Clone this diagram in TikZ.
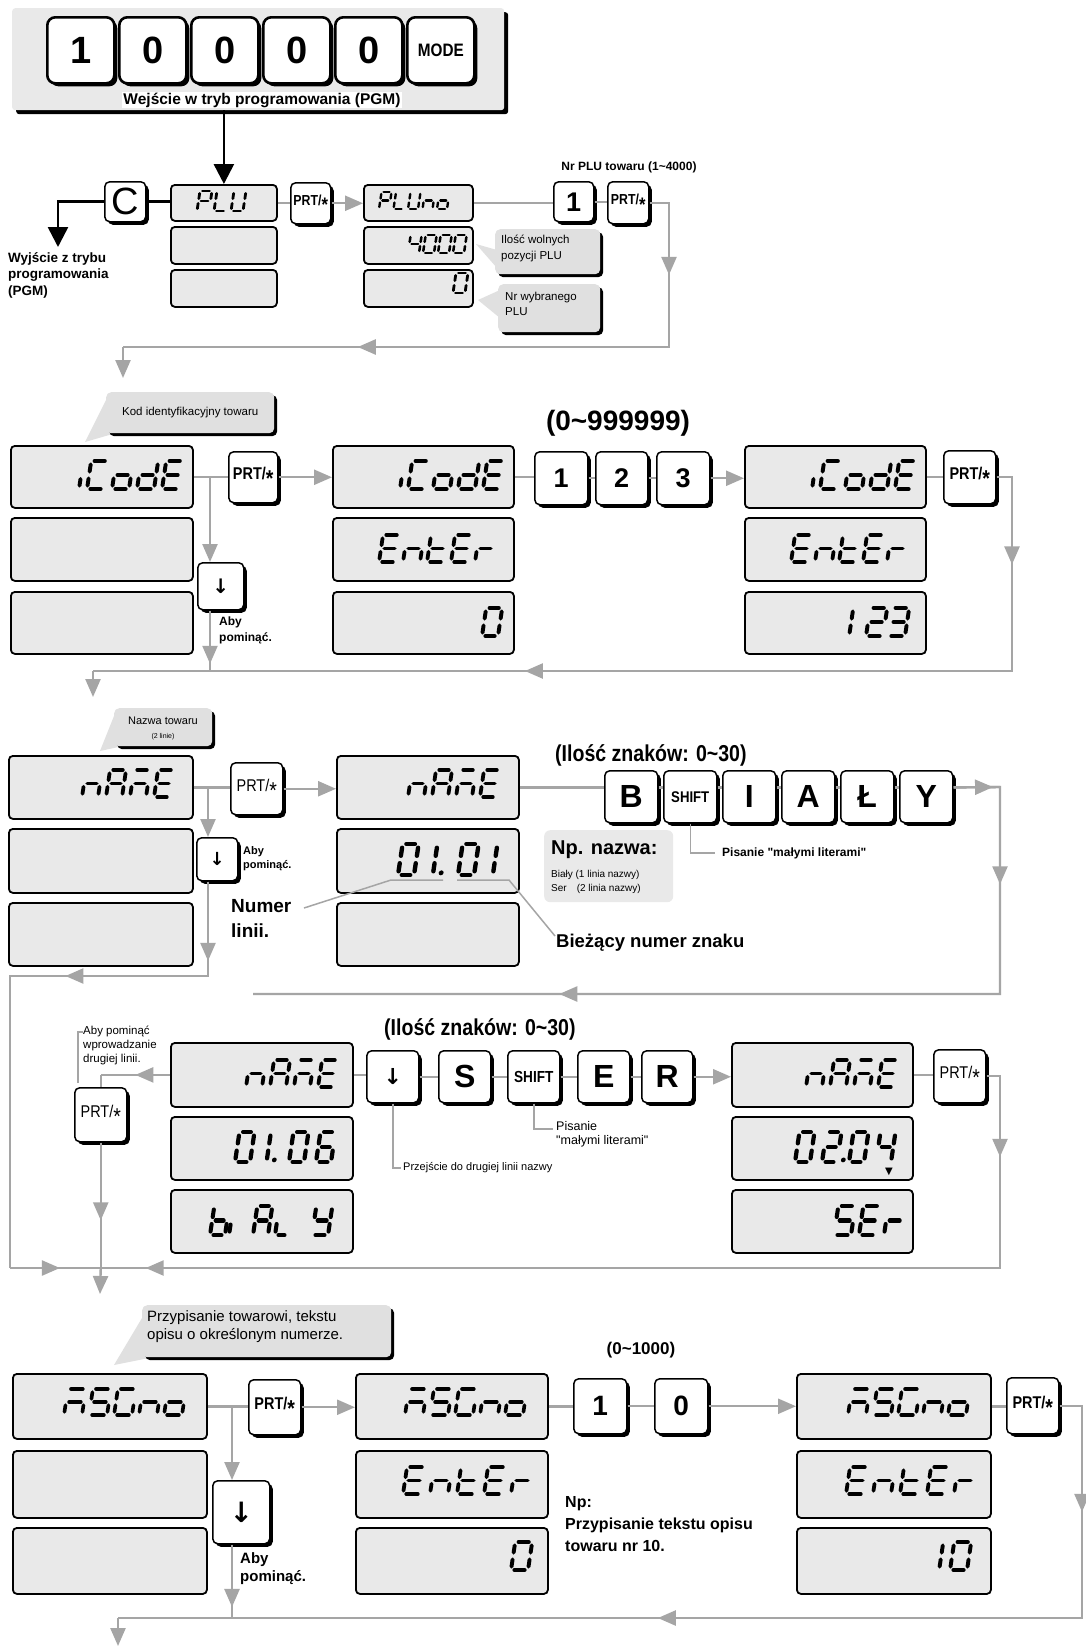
\documentclass[tikz,border=0pt]{standalone}
\usepackage{fontspec}
\setmainfont{Liberation Sans}
\newfontfamily\nar{Liberation Sans}[FakeStretch=0.85]
\newfontfamily\djv{DejaVu Sans}
\usetikzlibrary{arrows.meta,shadows,decorations.markings}
\definecolor{lg}{RGB}{165,165,165}
\definecolor{dg}{RGB}{233,233,233}
\definecolor{bg}{RGB}{224,224,224}
\newcommand\fK[1]{\fontsize{#1}{#1}\selectfont}
\newcommand\fL[2]{\fontsize{#1}{#2}\selectfont}
\newcommand\prt{PRT/\raisebox{-0.42em}{\scalebox{1.35}{*}}}
\newcommand\dnar{{\djv\bfseries ↓}}
\newcommand\qq{\textquotedbl}
\makeatletter
\newcommand\segglyph[1]{%
 \in@{a}{#1}\ifin@\draw ({\segG},{\sH}) -- ({\sW-\segG},{\sH});\fi
 \in@{g}{#1}\ifin@\draw ({\segG},{\sH/2}) -- ({\sW-\segG},{\sH/2});\fi
 \in@{d}{#1}\ifin@\draw ({\segG},0) -- ({\sW-\segG},0);\fi
 \in@{b}{#1}\ifin@\draw ({\sW},{\sH/2+\segG}) -- ({\sW},{\sH-\segG});\fi
 \in@{c}{#1}\ifin@\draw ({\sW},{\segG}) -- ({\sW},{\sH/2-\segG});\fi
 \in@{e}{#1}\ifin@\draw (0,{\segG}) -- (0,{\sH/2-\segG});\fi
 \in@{f}{#1}\ifin@\draw (0,{\sH/2+\segG}) -- (0,{\sH-\segG});\fi
 \in@{k}{#1}\ifin@\draw ({0.3*\sW},{\segG}) -- ({0.3*\sW},{\sH/2-\segG});\draw ({0.3*\sW},{\sH/2+\segG}) -- ({0.3*\sW},{\sH-\segG});\fi
 \in@{i}{#1}\ifin@\draw ({\sW},{\segG}) -- ({\sW},{0.36*\sH});\fi
 \in@{j}{#1}\ifin@\draw (0,{\segG}) -- (0,{0.36*\sH});\fi
 \in@{p}{#1}\ifin@\fill ({\sW+(\sP-\sW)/2},{0.07*\sH}) circle[radius={0.08*\sH}];\fi
 \in@{q}{#1}\ifin@\fill ({0.8*\sW},{0.07*\sH}) circle[radius={0.08*\sH}];\fi
}
\makeatother
\newcommand\segs[6]{%
 \begingroup
 \pgfmathsetmacro\sH{#3}\pgfmathsetmacro\sW{#4}\pgfmathsetmacro\sP{#5}%
 \pgfmathsetmacro\segLW{0.14*#3}\pgfmathsetmacro\segG{0.12*#3}%
 \gdef\nglyph{0}%
 \foreach \q in {#6}{\xdef\nglyph{\the\numexpr\nglyph+1\relax}}%
 \pgfmathsetmacro\sX{#1-(\nglyph-1)*#5-#4}%
 \begin{scope}[shift={(\sX,#2)},yscale=-1,xslant=-0.15]
  \tikzset{every path/.append style={line width=\segLW pt,line cap=round}}
  \foreach \q [count=\k from 0] in {#6}{%
   \begin{scope}[xshift=\k*\sP]\expandafter\segglyph\expandafter{\q}\end{scope}}
 \end{scope}
 \endgroup}
\newcommand\kb[7][]{\node[key,minimum width={#4-#2},minimum height={#5-#3},#1] (#6) at (#2,#3) {#7};}
\newcommand\db[5]{\node[disp,minimum width={#3-#1},minimum height={#4-#2}] (#5) at (#1,#2) {};}
\tikzset{
 shd/.style={drop shadow={shadow xshift=#1,shadow yshift=-#1,opacity=1,fill=black}},
 shd/.default=3pt,
 disp/.style={draw=black,line width=1.8pt,fill=dg,rounded corners=4pt,anchor=north west,inner sep=0pt},
 key/.style={draw=black,line width=1.5pt,fill=white,rounded corners=5pt,anchor=north west,inner sep=0pt,shd},
 topkey/.style={line width=2.6pt,rounded corners=8pt},
 hdrbox/.style={fill=dg,rounded corners=3pt,anchor=north west,inner sep=0pt,minimum width=492,minimum height=102,shd=4pt},
 bub/.style={fill=bg,rounded corners=5pt,anchor=north west,inner sep=0pt,shd},
 gl/.style={draw=lg,line width=2.4pt},
 ptr/.style={draw=lg,line width=1.5pt},
 arr/.style={-{Triangle[length=18pt,width=15pt]}},
 arrK/.style={-{Triangle[length=20pt,width=20pt]}},
 blk/.style={draw=black,line width=2.6pt},
 am/.style={postaction={decorate},decoration={markings,mark=at position #1 with {\arrow{Triangle[length=18pt,width=15pt]}}}},
 am/.default=0.5,
 lbl/.style={inner sep=0pt,anchor=west,align=left},
 lnw/.style={inner sep=0pt,anchor=north west,align=left},
 pf1/.style={font=\nar\bfseries\fK{14.5}},
 pf2/.style={font=\nar\bfseries\fK{17}},
 pf3/.style={font=\nar\fK{17}},
}
\begin{document}
\begin{tikzpicture}[x=1pt,y=-1pt]
\useasboundingbox (0,0) rectangle (1085,1647);
\fill[white] (0,0) rectangle (1085,1647);
% ================= Section 1
\node[hdrbox] (hdr) at (12,8) {};
\kb[topkey,font=\bfseries\fK{38}]{46}{16}{113}{82}{t1}{1}
\kb[topkey,font=\bfseries\fK{38}]{118}{16}{185}{82}{t2}{0}
\kb[topkey,font=\bfseries\fK{38}]{190}{16}{257}{82}{t3}{0}
\kb[topkey,font=\bfseries\fK{38}]{262}{16}{329}{82}{t4}{0}
\kb[topkey,font=\bfseries\fK{38}]{334}{16}{401}{82}{t5}{0}
\kb[topkey,font=\nar\bfseries\fK{18}]{406}{16}{473}{82}{t6}{MODE}
\node[fill=white,inner sep=1pt,font=\bfseries\fK{15.5}] (hdrt) at (262,100) {Wejście w tryb programowania (PGM)};

\kb[font=\fK{38}]{104}{181}{145}{221}{kC}{C}
\db{170}{184}{276}{220}{p1}
\db{170}{226}{276}{263}{p2}
\db{170}{269}{276}{306}{p3}
\kb[pf1]{290}{182}{330}{223}{prA}{\prt}
\db{363}{184}{472}{220}{q1}
\db{363}{226}{472}{263}{q2}
\db{363}{269}{472}{306}{q3}
\kb[font=\bfseries\fK{27}]{553}{181}{593}{221}{kA1}{1}
\kb[pf1]{607}{181}{648}{223}{prB}{\prt}
\segs{243}{211}{20}{12}{17}{abefg,def,bcdef}
\segs{447}{209}{17}{10}{14.5}{abefg,def,bcdef,ceg,cdeg}
\segs{464}{253}{18}{11}{15}{bcfg,abcdef,abcdef,abcdef}
\segs{465}{293}{20}{12}{15}{abcdef}

\fill[bg] (476,244) -- (497,250) -- (497,268) -- cycle;
\node[bub,minimum width=105,minimum height=45] (cb1) at (495,229) {};
\node[lnw,font=\fL{11.5}{16}] (cb1t) at (501,235) {Ilość wolnych\\pozycji PLU};
\fill[bg] (478,300) -- (500,290) -- (500,318) -- cycle;
\node[bub,minimum width=102,minimum height=48] (cb2) at (498,284) {};
\node[lnw,font=\fL{11.5}{15}] (cb2t) at (505,292) {Nr wybranego\\PLU};

\node[font=\bfseries\fK{12}] (nrplu) at (629,167) {Nr PLU towaru (1\textasciitilde4000)};
\node[lnw,font=\bfseries\fL{13.5}{16.5}] (wyj) at (8,252) {Wyjście z trybu\\programowania\\(PGM)};

\draw[blk,arrK] (p1.north |- hdr.south) -- (p1.north);
\draw[blk] (kC.east) -- (kC.east -| p1.west);
\coordinate (ex) at (58,247);
\draw[blk,arrK] (kC.west) -| (ex);
\draw[gl] (p1.east) -- (p1.east -| prA.west);
\draw[gl,arr] (prA.east) -- (prA.east -| q1.west);
\draw[gl] (q1.east) -- (q1.east -| kA1.west);
\draw[gl] (kA1.east) -- (kA1.east -| prB.west);
\coordinate (r1a) at (669,347);
\coordinate (r1b) at (123,347);
\coordinate (r1c) at (123,378);
\draw[gl] (prB.east) -| (r1a) -- (r1b);
\draw[gl,am=0.5] (prB.east -| r1a) -- (r1a);
\draw[gl,am=0.57] (r1a) -- (r1b);
\draw[gl,arr] (r1b) -- (r1c);

% ================= Section 2
\fill[bg] (85,442) -- (106,400) -- (116,433) -- cycle;
\node[bub,minimum width=168,minimum height=41] (cbK) at (106,392) {};
\node[font=\fK{11.5}] (cbKt) at (cbK.center) {Kod identyfikacyjny towaru};
\db{10}{445}{192}{507}{a1}
\db{10}{517}{192}{580}{a2}
\db{10}{591}{192}{653}{a3}
\kb[pf2]{228}{451}{277}{502}{prC}{\prt}
\kb[font=\fK{20}]{197}{562}{243}{609}{dn1}{\dnar}
\db{332}{445}{513}{507}{b1}
\db{332}{517}{513}{580}{b2}
\db{332}{591}{513}{653}{b3}
\kb[font=\bfseries\fK{27}]{534}{451}{587}{504}{k21}{1}
\kb[font=\bfseries\fK{27}]{595}{451}{647}{504}{k22}{2}
\kb[font=\bfseries\fK{27}]{656}{451}{709}{504}{k23}{3}
\db{744}{445}{925}{507}{c1}
\db{744}{517}{925}{580}{c2}
\db{744}{591}{925}{653}{c3}
\kb[pf2]{943}{450}{995}{503}{prD}{\prt}
\segs{179}{489}{28}{17}{25}{i,adef,cdeg,bcdeg,adefg}
\segs{500}{489}{28}{17}{25}{i,adef,cdeg,bcdeg,adefg}
\segs{912}{489}{28}{17}{25}{i,adef,cdeg,bcdeg,adefg}
\segs{492}{562}{27}{17}{24}{adefg,ceg,defg,adefg,eg}
\segs{904}{562}{27}{17}{24}{adefg,ceg,defg,adefg,eg}
\segs{498}{636}{28}{16}{24}{abcdef}
\segs{905}{636}{28}{17}{22}{k,abdeg,abcdg}
\node[font=\bfseries\fK{28}] (rng1) at (618,423) {(0\textasciitilde999999)};
\node[lnw,font=\bfseries\fL{12}{16}] (aby1) at (219,617) {Aby\\pominąć.};

\draw[gl] (a1.east) -- (a1.east -| prC.west);
\coordinate (s2j) at (210,476);
\coordinate (s2b) at (210,671);
\draw[gl,arr] (s2j) -- (s2j |- dn1.north);
\draw[gl,am=0.88] (s2j |- dn1.south) -- (s2b);
\draw[gl,arr] (prC.east) -- (prC.east -| b1.west);
\draw[gl] (b1.east) -- (b1.east -| k21.west);
\draw[gl] (k21.east) -- (k21.east -| k22.west);
\draw[gl] (k22.east) -- (k22.east -| k23.west);
\draw[gl,arr] (k23.east) -- (k23.east -| c1.west);
\draw[gl] (c1.east) -- (c1.east -| prD.west);
\coordinate (r2a) at (1012,671);
\coordinate (r2b) at (93,671);
\coordinate (r2c) at (93,697);
\draw[gl] (prD.east) -| (r2a) -- (r2b);
\draw[gl,am=0.45] (prD.east -| r2a) -- (r2a);
\draw[gl,am=0.53] (r2a) -- (r2b);
\draw[gl,arr] (r2b) -- (r2c);

% ================= Section 3
\fill[bg] (100,751) -- (114,716) -- (123,746) -- cycle;
\node[bub,minimum width=98,minimum height=38] (cbN) at (114,708) {};
\node[font=\fK{11}] (cbNt) at (163,721) {Nazwa towaru};
\node[font=\fK{7}] (cbNt2) at (163,737) {(2 linie)};
\db{8}{755}{192}{818}{e1}
\db{8}{828}{192}{892}{e2}
\db{8}{902}{192}{965}{e3}
\kb[pf3]{230}{762}{282}{814}{prE}{\prt}
\kb[font=\fK{18}]{196}{837}{237}{880}{dn2}{\dnar}
\db{336}{755}{518}{818}{f1}
\db{336}{828}{518}{892}{f2}
\db{336}{902}{518}{965}{f3}
\kb[font=\bfseries\fK{32}]{604}{770}{657}{822}{kB}{B}
\kb[font=\nar\bfseries\fK{15.5}]{663}{770}{716}{822}{ksh}{SHIFT}
\kb[font=\bfseries\fK{32}]{722}{770}{775}{822}{kI}{I}
\kb[font=\bfseries\fK{32}]{781}{770}{834}{822}{kA}{A}
\kb[font=\bfseries\fK{32}]{840}{770}{893}{822}{kL}{Ł}
\kb[font=\bfseries\fK{32}]{899}{770}{952}{822}{kY}{Y}
\segs{170}{797}{27}{16}{24}{ceg,abcefg,aceg,adefg}
\segs{496}{797}{27}{16}{24}{ceg,abcefg,aceg,adefg}
\segs{504}{875}{31}{16}{30}{abcdef,kq,abcdef,k}
\node[lbl,font=\nar\bfseries\fK{23}] (ilo1) at (555,755) {(Ilość znaków: 0\textasciitilde30)};
\node[lnw,font=\bfseries\fL{11}{14}] (aby2) at (243,846) {Aby\\pominąć.};
\node[lnw,font=\bfseries\fL{19}{25}] (numer) at (231,899) {Numer\\linii.};
\node[fill=dg,rounded corners=6pt,anchor=north west,inner sep=0pt,minimum width=129,minimum height=72] (npb) at (544,830) {};
\node[lbl,font=\bfseries\fK{20}] (npt) at (551,850) {Np. nazwa:};
\node[lbl,font=\fK{10}] (np1) at (551,875) {Biały (1 linia nazwy)};
\node[lbl,font=\fK{10}] (np2) at (551,889) {Ser\hspace{10pt}(2 linia nazwy)};
\node[lbl,font=\bfseries\fK{12}] (pis1) at (722,853) {Pisanie \qq małymi literami\qq};
\node[lbl,font=\bfseries\fK{18.5}] (biez) at (556,943) {Bieżący numer znaku};
\coordinate (nl1) at (304,908);
\coordinate (nl2) at (391,880);
\coordinate (nl3) at (443,880);
\coordinate (nl4) at (457,880);
\coordinate (nl5) at (509,880);
\coordinate (nl6) at (555,936);
\draw[ptr] (nl1) -- (nl2) -- (nl3);
\draw[ptr] (nl4) -- (nl5) -- (nl6);
\coordinate (shl) at (715,853);
\draw[ptr] (ksh.south) |- (shl);

\draw[gl] (e1.east) -- (e1.east -| prE.west);
\coordinate (s3j) at (208,787);
\coordinate (s3b) at (208,976);
\coordinate (s3c) at (10,976);
\coordinate (s3d) at (10,1268);
\draw[gl,arr] (s3j) -- (s3j |- dn2.north);
\draw[gl] (s3j |- dn2.south) -- (s3b) -- (s3c) -- (s3d);
\draw[gl,am=0.84] (s3j |- dn2.south) -- (s3b);
\draw[gl,am=0.72] (s3b) -- (s3c);
\draw[gl,arr] (prE.east) -- (prE.east -| f1.west);
\draw[gl] (f1.east) -- (f1.east -| kB.west);
\draw[gl] (kB.east |- f1.east) -- (ksh.west |- f1.east);
\draw[gl] (ksh.east |- f1.east) -- (kI.west |- f1.east);
\draw[gl] (kI.east |- f1.east) -- (kA.west |- f1.east);
\draw[gl] (kA.east |- f1.east) -- (kL.west |- f1.east);
\draw[gl] (kL.east |- f1.east) -- (kY.west |- f1.east);
\coordinate (r3a) at (1000,787);
\coordinate (r3b) at (1000,994);
\coordinate (r3c) at (253,994);
\draw[gl] (kY.east |- f1.east) -- (r3a) -- (r3b) -- (r3c);
\draw[gl,am=0.85] (kY.east |- f1.east) -- (r3a);
\draw[gl,am=0.47] (r3a) -- (r3b);
\draw[gl,am=0.59] (r3b) -- (r3c);

% ================= Section 4
\db{170}{1042}{352}{1106}{g1}
\db{170}{1116}{352}{1179}{g2}
\db{170}{1189}{352}{1252}{g3}
\kb[font=\fK{22}]{366}{1050}{418}{1102}{kdn}{\dnar}
\kb[font=\bfseries\fK{32}]{438}{1050}{490}{1102}{kS}{S}
\kb[font=\nar\bfseries\fK{16}]{507}{1050}{559}{1102}{ksh2}{SHIFT}
\kb[font=\bfseries\fK{32}]{577}{1050}{629}{1102}{kE}{E}
\kb[font=\bfseries\fK{32}]{641}{1050}{692}{1102}{kR}{R}
\db{731}{1042}{912}{1106}{h1}
\db{731}{1116}{912}{1179}{h2}
\db{731}{1189}{912}{1252}{h3}
\kb[pf3]{933}{1049}{985}{1102}{prF}{\prt}
\kb[pf3]{74}{1087}{126}{1141}{prG}{\prt}
\segs{334}{1087}{27}{16}{24}{ceg,abcefg,aceg,adefg}
\segs{331}{1162}{30}{15}{27}{abcdef,kq,abcdef,acdefg}
\segs{225}{1235}{29}{15}{20}{cdefg}
\segs{244}{1235}{29}{15}{20}{j}
\segs{268}{1235}{29}{15}{20}{abcefg}
\segs{288}{1235}{29}{13}{20}{de}
\segs{328}{1235}{29}{16}{20}{bcdfg}
\segs{894}{1087}{27}{16}{24}{ceg,abcefg,aceg,adefg}
\segs{891}{1162}{30}{15}{27}{abcdef,abdegp,abcdef,bcfg}
\segs{901}{1235}{29}{17}{25}{acdfg,adefg,eg}
\node[font=\djv\fK{10}] (tri) at (889,1172) {▼};
\node[lbl,font=\nar\bfseries\fK{23}] (ilo2) at (384,1029) {(Ilość znaków: 0\textasciitilde30)};
\node[lnw,font=\fL{11.5}{14}] (abyw) at (83,1026) {Aby pominąć\\wprowadzanie\\drugiej linii.};
\coordinate (bk1) at (78,1083);
\coordinate (bk2) at (78,1032);
\coordinate (bk3) at (83,1032);
\draw[ptr] (bk1) -- (bk2) -- (bk3);
\coordinate (pj) at (401,1168);
\draw[ptr] (kdn.south) |- (pj);
\node[lbl,font=\fK{11}] (prz) at (403,1168) {Przejście do drugiej linii nazwy};
\coordinate (ps) at (553,1129);
\draw[ptr] (ksh2.south) |- (ps);
\node[lnw,font=\fL{12.5}{14}] (pis2) at (556,1121) {Pisanie\\\qq małymi literami\qq};

\coordinate (s4a) at (prG.north |- g1.west);
\draw[gl,am=0.5] (g1.west) -- (s4a);
\draw[gl] (s4a) -- (prG.north);
\coordinate (s4b) at (prG.south |- s3d);
\coordinate (s4c) at (100,1294);
\draw[gl,am=0.62] (prG.south) -- (s4b);
\draw[gl,arr] (s4b) -- (s4c);
\draw[gl,am=0.55] (s3d) -- (s4b);
\draw[gl] (g1.east) -- (g1.east -| kdn.west);
\draw[gl] (kdn.east) -- (kdn.east -| kS.west);
\draw[gl] (kS.east) -- (kS.east -| ksh2.west);
\draw[gl] (ksh2.east) -- (ksh2.east -| kE.west);
\draw[gl] (kE.east) -- (kE.east -| kR.west);
\draw[gl,arr] (kR.east) -- (kR.east -| h1.west);
\draw[gl] (h1.east) -- (h1.east -| prF.west);
\coordinate (r4a) at (1000,1268);
\draw[gl] (prF.east) -| (r4a) -- (s4b);
\draw[gl,am=0.42] (prF.east -| r4a) -- (r4a);
\draw[gl,am=0.95] (r4a) -- (s4b);

% ================= Section 5
\fill[bg] (114,1365) -- (142,1318) -- (154,1357) -- cycle;
\node[bub,minimum width=249,minimum height=52] (cbM) at (142,1305) {};
\node[lnw,font=\fL{15}{18}] (cbMt) at (147,1310) {Przypisanie towarowi, tekstu\\opisu o określonym numerze.};
\db{12}{1373}{206}{1438}{m1}
\db{12}{1450}{206}{1517}{m2}
\db{12}{1527}{206}{1593}{m3}
\kb[pf2]{248}{1379}{300}{1434}{prH}{\prt}
\kb[font=\fK{28}]{212}{1480}{269}{1543}{dn3}{\dnar}
\db{355}{1373}{547}{1438}{n1}
\db{355}{1450}{547}{1517}{n2}
\db{355}{1527}{547}{1593}{n3}
\kb[font=\bfseries\fK{28}]{573}{1378}{626}{1433}{k51}{1}
\kb[font=\bfseries\fK{28}]{654}{1378}{707}{1433}{k50}{0}
\db{796}{1373}{990}{1438}{o1}
\db{796}{1450}{990}{1517}{o2}
\db{796}{1527}{990}{1593}{o3}
\kb[pf2]{1006}{1377}{1058}{1433}{prI}{\prt}
\segs{182}{1415}{26}{18}{25}{aceg,acdfg,acdef,ceg,cdeg}
\segs{523}{1415}{26}{18}{25}{aceg,acdfg,acdef,ceg,cdeg}
\segs{966}{1415}{26}{18}{25}{aceg,acdfg,acdef,ceg,cdeg}
\segs{529}{1494}{27}{18}{27}{adefg,ceg,defg,adefg,eg}
\segs{972}{1494}{27}{18}{27}{adefg,ceg,defg,adefg,eg}
\segs{528}{1570}{28}{17}{24}{abcdef}
\segs{967}{1570}{28}{17}{16}{k,abcdef}
\node[font=\bfseries\fK{17}] (rng2) at (641,1350) {(0\textasciitilde1000)};
\node[lnw,font=\bfseries\fL{16}{22}] (npx) at (565,1496) {Np:\\Przypisanie tekstu opisu\\towaru nr 10.};
\node[lnw,font=\bfseries\fL{15}{18}] (aby3) at (240,1552) {Aby\\pominąć.};

\draw[gl] (m1.east) -- (m1.east -| prH.west);
\coordinate (s5j) at (232,1405.5);
\coordinate (s5b) at (232,1618);
\draw[gl,arr] (s5j) -- (s5j |- dn3.north);
\draw[gl,am=0.85] (s5j |- dn3.south) -- (s5b);
\draw[gl,arr] (prH.east) -- (prH.east -| n1.west);
\draw[gl] (n1.east) -- (n1.east -| k51.west);
\draw[gl] (k51.east) -- (k51.east -| k50.west);
\draw[gl,arr] (k50.east) -- (k50.east -| o1.west);
\draw[gl] (o1.east) -- (o1.east -| prI.west);
\coordinate (r5a) at (1082,1618);
\coordinate (r5b) at (118,1618);
\coordinate (r5c) at (118,1646);
\draw[gl] (prI.east) -| (r5a) -- (r5b);
\draw[gl,am=0.5] (prI.east -| r5a) -- (r5a);
\draw[gl,am=0.44] (r5a) -- (r5b);
\draw[gl,arr] (r5b) -- (r5c);
\end{tikzpicture}
\end{document}
